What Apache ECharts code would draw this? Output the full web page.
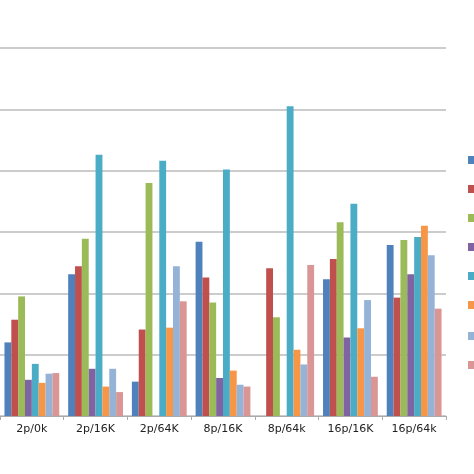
<!DOCTYPE html><html><head><meta charset="utf-8"><script src="https://cdn.jsdelivr.net/npm/echarts@6/dist/echarts.min.js"></script></head><body style="margin:0"><div id="c" style="width:474px;height:474px"></div><script>
const categories=['2p/0k','2p/16K','2p/64K','8p/16K','8p/64k','16p/16K','16p/64k'];
const names=['S1','S2','S3','S4','S5','S6','S7','S8'];
const colors=['#4F81BD','#C0504D','#9BBB59','#8064A2','#4BACC6','#F79646','#95B3D7','#D99694'];
const s1=[1.2,2.31,0.56,2.84,0,2.23,2.79];
const s2=[1.57,2.44,1.41,2.26,2.41,2.56,1.93];
const s3=[1.95,2.89,3.80,1.85,1.61,3.16,2.87];
const s4=[0.59,0.77,0,0.62,0,1.28,2.31];
const s5=[0.85,4.26,4.16,4.02,5.05,3.46,2.92];
const s6=[0.54,0.48,1.44,0.74,1.08,1.43,3.10];
const s7=[0.69,0.77,2.44,0.51,0.84,1.89,2.62];
const s8=[0.70,0.39,1.87,0.48,2.46,0.64,1.75];
const data=[s1,s2,s3,s4,s5,s6,s7,s8];
const chart=echarts.init(document.getElementById('c'));
chart.setOption({
 animation:false,color:colors,
 grid:{left:-15,right:28,top:48,bottom:58},
 legend:[{data:names.slice(0,6),orient:'vertical',left:463,top:150,itemWidth:8,itemHeight:8,itemGap:19,icon:'rect',textStyle:{fontSize:10}},
   {data:names.slice(6),orient:'vertical',left:463,top:326,itemWidth:8,itemHeight:8,itemGap:19,icon:'rect',textStyle:{fontSize:10}}],
 xAxis:{type:'category',data:categories,axisTick:{show:true,length:4,lineStyle:{color:'#aaa'}},axisLine:{lineStyle:{color:'#aaa'}},axisLabel:{color:'#222',fontSize:11,fontFamily:'DejaVu Sans',margin:8}},
 yAxis:{type:'value',min:0,max:6,interval:1,axisLabel:{show:false},splitLine:{lineStyle:{color:'#bbb',width:1.5}}},
 series:data.map((d,i)=>({name:names[i],type:'bar',data:d,barGap:'0%',barCategoryGap:'14%'}))
});
</script></body></html>
